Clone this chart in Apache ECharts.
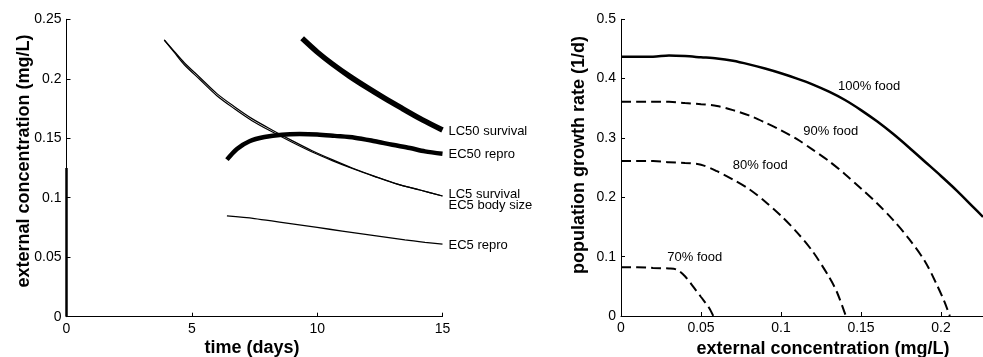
<!DOCTYPE html>
<html>
<head>
<meta charset="utf-8">
<script src="https://cdn.jsdelivr.net/npm/echarts@6/dist/echarts.min.js"></script>
<style>
html,body{margin:0;padding:0;background:#fff;}
#c{width:983px;height:357px;}
</style>
</head>
<body>
<div id="c"></div>
<script>
// ---------- Left panel: time (days) vs external concentration ----------
var lc50Survival = [[9.4,0.234],[10,0.2225],[10.6,0.2125],[11.3,0.202],[12,0.1925],[12.7,0.1835],[13.4,0.175],[14.2,0.1655],[15,0.157]];
var ec50Repro = [[6.4,0.132],[6.8,0.141],[7.3,0.1475],[7.9,0.151],[8.6,0.153],[9.3,0.1535],[10,0.1532],[10.7,0.152],[11.5,0.1505],[12.3,0.1475],[13,0.1445],[13.7,0.1418],[14.3,0.139],[15,0.137]];
var lc5Survival = [[3.9,0.2326],[4.3,0.223],[4.7,0.2135],[5.3,0.2015],[6,0.1875],[6.7,0.1765],[7.4,0.1665],[8.2,0.157],[9,0.148],[9.8,0.1395],[10.6,0.132],[11.4,0.125],[12.3,0.118],[13.2,0.1115],[14.1,0.1065],[15,0.1015]];
var ec5BodySize = [[3.9,0.2326],[4.3,0.2222],[4.7,0.2118],[5.3,0.1998],[6,0.1858],[6.7,0.1748],[7.4,0.1648],[8.2,0.1554],[9,0.1466],[9.8,0.1384],[10.6,0.1312],[11.4,0.1246],[12.3,0.1178],[13.2,0.1114],[14.1,0.1065],[15,0.1015]];
var ec5Repro = [[6.4,0.0847],[7.5,0.0825],[8.5,0.0795],[9.5,0.0765],[10.5,0.0735],[11.5,0.0705],[12.5,0.0675],[13.5,0.0645],[14.3,0.0625],[15,0.061]];
var axisEdge = [[0,0],[0,0.125]];
var leftLabels = ['LC50 survival','EC50 repro','LC5 survival\nEC5 body size','EC5 repro'];

// ---------- Right panel: external concentration vs population growth rate ----------
var food100 = [[0,0.437],[0.01,0.437],[0.02,0.437],[0.03,0.439],[0.04,0.438],[0.05,0.436],[0.06,0.434],[0.07,0.43],[0.08,0.424],[0.09,0.417],[0.1,0.409],[0.11,0.4],[0.12,0.39],[0.13,0.378],[0.14,0.364],[0.15,0.347],[0.16,0.328],[0.17,0.307],[0.18,0.284],[0.19,0.26],[0.2,0.236],[0.21,0.211],[0.22,0.184],[0.22625,0.167]];
var food90 = [[0,0.361],[0.01,0.361],[0.02,0.361],[0.03,0.361],[0.04,0.359],[0.05,0.357],[0.06,0.354],[0.07,0.347],[0.08,0.338],[0.09,0.326],[0.1,0.313],[0.11,0.298],[0.12,0.28],[0.13,0.261],[0.14,0.239],[0.15,0.215],[0.16,0.19],[0.17,0.162],[0.18,0.13],[0.19,0.092],[0.197,0.055],[0.202,0.025],[0.2055,0]];
var food80 = [[0,0.261],[0.01,0.261],[0.02,0.261],[0.03,0.259],[0.04,0.258],[0.05,0.255],[0.06,0.244],[0.07,0.23],[0.08,0.214],[0.09,0.193],[0.1,0.169],[0.11,0.141],[0.12,0.108],[0.13,0.066],[0.135,0.04],[0.1405,0]];
var food70 = [[0,0.082],[0.01,0.082],[0.02,0.081],[0.03,0.08],[0.035,0.078],[0.04,0.067],[0.045,0.05],[0.05,0.032],[0.055,0.014],[0.0577,0]];
var foodLabels = ['100% food','90% food','80% food','70% food'];
var foodLabelPos = [[0.1356,0.3867],[0.1139,0.3108],[0.0698,0.2535],[0.0289,0.099]];

var leftXTicks = {min:0,max:15,interval:5};
var leftYTicks = {min:0,max:0.25,interval:0.05};
var rightXTicks = {min:0,max:0.22625,interval:0.05};
var rightYTicks = {min:0,max:0.5,interval:0.1};

var FONT = "'Liberation Sans', Arial, Helvetica, sans-serif";
var chart = echarts.init(document.getElementById('c'), null, {renderer:'canvas'});

function axisBase(t, isX){
  return {
    type:'value', min:t.min, max:t.max, interval:t.interval,
    axisLine:{show:true, onZero:false, lineStyle:{color:'#000', width:1}},
    axisTick:{show:true, inside:true, length:4, lineStyle:{color:'#000', width:1}},
    splitLine:{show:false},
    axisLabel:{color:'#000', fontFamily:FONT, fontSize:14, margin:5,
      formatter:function(v){
        var k = Math.round(v/t.interval);
        if (Math.abs(k*t.interval - v) > 1e-9) return '';
        return String(parseFloat((k*t.interval).toFixed(4)));
      }}
  };
}

function lineSeries(data, xi, width, extra){
  var s = {
    type:'line', xAxisIndex:xi, yAxisIndex:xi, data:data, showSymbol:false, symbol:'none',
    smooth:0.3, lineStyle:{color:'#000', width:width}, z:3, silent:true
  };
  for (var k in extra) s[k] = extra[k];
  return s;
}

function endLabel(text, offset){
  return {show:true, formatter:text, color:'#000', fontFamily:FONT, fontSize:13,
    distance:6, lineHeight:11, offset:offset || [0,0]};
}

// tiny anchor points carrying the curve labels
function labelSeries(i){
  return {
    type:'scatter', xAxisIndex:1, yAxisIndex:1, silent:true, z:5,
    symbol:'circle', symbolSize:0.1, itemStyle:{color:'#000', opacity:1},
    label:{show:true, position:'right', distance:0, formatter:foodLabels[i], color:'#000', opacity:1, textBorderWidth:0, fontFamily:FONT, fontSize:13},
    data:[foodLabelPos[i]]
  };
}

var rxTicks = axisBase(rightXTicks, true);
rxTicks.axisLabel.showMaxLabel = false;
var dash = {color:'#000', width:2, type:[10,5]};

var option = {
  animation:false,
  backgroundColor:'#fff',
  grid:[
    {left:66.5, top:19.3, width:376, height:297.4},
    {left:621, top:19.3, width:362, height:296.7}
  ],
  xAxis:[ Object.assign(axisBase(leftXTicks, true), {gridIndex:0}), Object.assign(rxTicks, {gridIndex:1}) ],
  yAxis:[ Object.assign(axisBase(leftYTicks, false), {gridIndex:0}), Object.assign(axisBase(rightYTicks, false), {gridIndex:1}) ],
  series:[
    lineSeries(lc50Survival, 0, 5.5, {endLabel:endLabel(leftLabels[0],[0,1])}),
    lineSeries(ec50Repro, 0, 4.5, {endLabel:endLabel(leftLabels[1],[0,1])}),
    lineSeries(lc5Survival, 0, 1.2, {endLabel:endLabel(leftLabels[2],[0,4])}),
    lineSeries(ec5BodySize, 0, 1.2, {}),
    lineSeries(ec5Repro, 0, 1.3, {endLabel:endLabel(leftLabels[3],[0,1])}),
    lineSeries(axisEdge, 0, 2.5, {smooth:false, clip:false}),
    lineSeries(food100, 1, 2.5, {}),
    lineSeries(food90, 1, 2, {lineStyle:dash}),
    lineSeries(food80, 1, 2, {lineStyle:dash}),
    lineSeries(food70, 1, 2, {lineStyle:dash}),
    labelSeries(0), labelSeries(1), labelSeries(2), labelSeries(3)
  ],
  graphic:[
    {type:'text', x:24, y:161, rotation:Math.PI/2, style:{text:'external concentration (mg/L)', font:'bold 18px '+FONT, fill:'#000', textAlign:'center', textVerticalAlign:'middle'}},
    {type:'text', x:252, y:348, style:{text:'time (days)', font:'bold 18px '+FONT, fill:'#000', textAlign:'center', textVerticalAlign:'middle'}},
    {type:'text', x:579, y:155, rotation:Math.PI/2, style:{text:'population growth rate (1/d)', font:'bold 18px '+FONT, fill:'#000', textAlign:'center', textVerticalAlign:'middle'}},
    {type:'text', x:823, y:349, style:{text:'external concentration (mg/L)', font:'bold 18px '+FONT, fill:'#000', textAlign:'center', textVerticalAlign:'middle'}}
  ]
};
chart.setOption(option);
</script>
</body>
</html>
